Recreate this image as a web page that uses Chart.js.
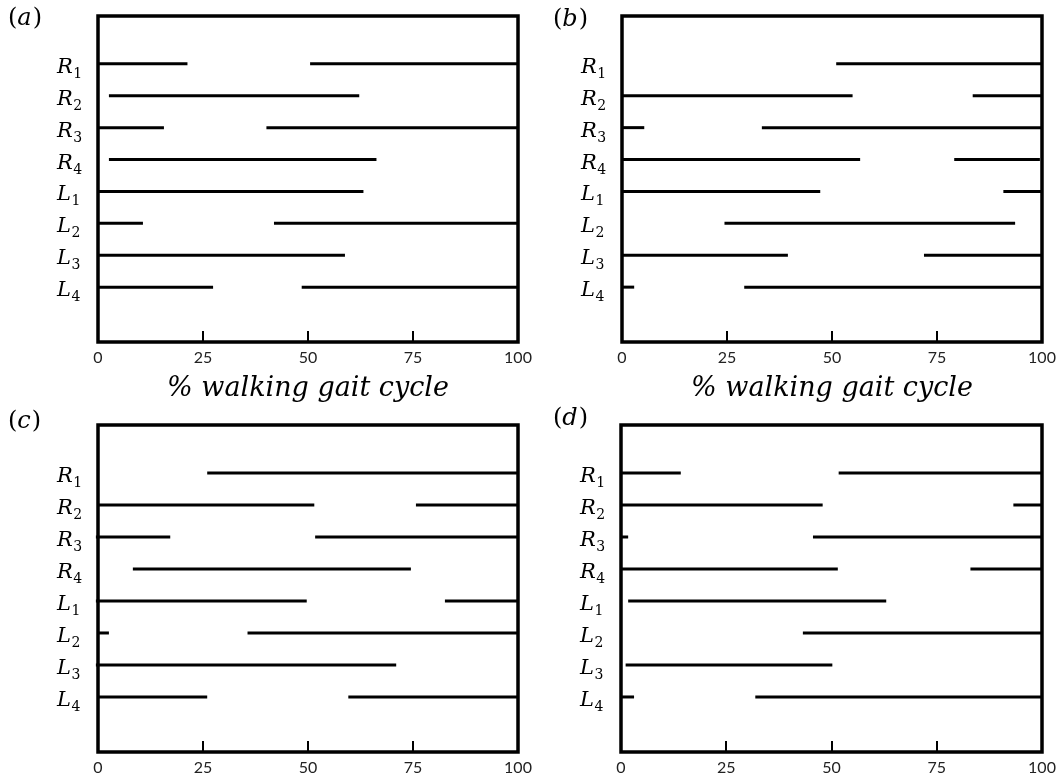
<!DOCTYPE html>
<html>
<head>
<meta charset="utf-8">
<title>Muscle activation over the walking gait cycle</title>
<script src="https://cdn.jsdelivr.net/npm/chart.js@4.4.1/dist/chart.umd.min.js"></script>
<style>
html,body{margin:0;padding:0;background:#fff;}
body{width:1061px;height:784px;position:relative;overflow:hidden;}
.panel{position:absolute;}
.panel canvas{display:block;}
</style>
</head>
<body>
<div class="panel" id="pa" style="left:0;top:0;width:545px;height:410px"><canvas id="ca"></canvas></div>
<div class="panel" id="pb" style="left:530px;top:0;width:531px;height:410px"><canvas id="cb"></canvas></div>
<div class="panel" id="pc" style="left:0;top:404px;width:545px;height:380px"><canvas id="cc"></canvas></div>
<div class="panel" id="pd" style="left:530px;top:404px;width:531px;height:380px"><canvas id="cd"></canvas></div>
<script>
// ---------- data ----------
const rowLabels = ['R1', 'R2', 'R3', 'R4', 'L1', 'L2', 'L3', 'L4'];
const xTickValues = [0, 25, 50, 75, 100];
const axisTitle = '% walking gait cycle';

// panel (a): [start, end] of each active interval, per row
const aFirst  = [[0, 21.3], [2.6, 62.2], [0, 15.7], [2.6, 66.3], [0, 63.2], [0, 10.7], [0, 58.8], [0, 27.4]];
const aSecond = [[50.5, 100], null, [40.1, 100], null, null, [41.9, 100], null, [48.5, 100]];

// panel (b)
const bFirst  = [[51.0, 100], [0, 54.9], [0, 5.3], [0, 56.7], [0, 47.2], [24.4, 93.6], [0, 39.5], [0, 2.9]];
const bSecond = [null, [83.5, 100], [33.3, 100], [79.1, 99.5], [90.8, 100], null, [71.9, 100], [29.1, 100]];

// panel (c)
const cFirst  = [[26.0, 100], [0, 51.5], [-0.5, 17.2], [8.3, 74.5], [-0.5, 49.7], [0, 2.6], [-0.5, 71.0], [0, 26.0]];
const cSecond = [null, [75.7, 100], [51.7, 100], null, [82.6, 100], [35.6, 100], null, [59.6, 100]];

// panel (d)
const dFirst  = [[0, 14.2], [0, 47.9], [0, 1.7], [0, 51.5], [1.7, 63.0], [43.2, 100], [1.1, 50.2], [0, 3.1]];
const dSecond = [[51.7, 100], [93.2, 100], [45.6, 100], [83.0, 100], null, null, null, [31.9, 100]];

// ---------- layout (page pixels) ----------
const panels = [
  {canvas: 'ca', letter: 'a', first: aFirst, second: aSecond, title: true,
   box: {ox: 0, oy: 0, w: 545, h: 410}, frame: {l: 98, r: 518, t: 16, b: 342}, letterPos: {x: 8, y: 18.5}},
  {canvas: 'cb', letter: 'b', first: bFirst, second: bSecond, title: true,
   box: {ox: 530, oy: 0, w: 531, h: 410}, frame: {l: 622, r: 1042, t: 16, b: 342}, letterPos: {x: 23, y: 19.5}},
  {canvas: 'cc', letter: 'c', first: cFirst, second: cSecond, title: false,
   box: {ox: 0, oy: 404, w: 545, h: 380}, frame: {l: 98, r: 518, t: 425, b: 752}, letterPos: {x: 8, y: 17.5}},
  {canvas: 'cd', letter: 'd', first: dFirst, second: dSecond, title: false,
   box: {ox: 530, oy: 404, w: 531, h: 380}, frame: {l: 621, r: 1042, t: 425, b: 752}, letterPos: {x: 23, y: 14.5}}
];

function toBars(segs) {
  const out = [];
  segs.forEach((s, i) => { if (s) out.push({x: s, y: i + 1}); });
  return out;
}

const decorPlugin = {
  id: 'panelDecor',
  afterDatasetsDraw(chart, args, opts) {
    const {ctx, chartArea: ca} = chart;
    const x = chart.scales.x, y = chart.scales.y;
    ctx.save();
    // inner tick marks on the bottom edge
    ctx.strokeStyle = '#000';
    ctx.lineWidth = 2;
    xTickValues.forEach(v => {
      if (v > x.min && v < x.max) {
        const px = Math.round(x.getPixelForValue(v));
        ctx.beginPath();
        ctx.moveTo(px, ca.bottom);
        ctx.lineTo(px, ca.bottom - 11);
        ctx.stroke();
      }
    });
    // frame
    ctx.lineWidth = 3.5;
    ctx.strokeRect(ca.left, ca.top, ca.right - ca.left, ca.bottom - ca.top);
    // row labels (letter + subscript)
    ctx.fillStyle = '#000';
    ctx.textAlign = 'left';
    ctx.textBaseline = 'alphabetic';
    rowLabels.forEach((lab, i) => {
      const py = y.getPixelForValue(i + 1);
      const base = lab.charAt(0), sub = lab.slice(1);
      const lx = ca.left - 41;
      ctx.font = 'italic 21px "DejaVu Serif"';
      ctx.fillText(base, lx, py + 9);
      const w = ctx.measureText(base).width;
      ctx.font = '14px "DejaVu Serif"';
      ctx.fillText(sub, lx + w + 0.5, py + 14);
    });
    // panel letter "(a)"
    ctx.textBaseline = 'middle';
    let lx = opts.x;
    const ly = opts.y;
    ctx.font = '24px "DejaVu Serif"';
    ctx.fillText('(', lx, ly);
    lx += ctx.measureText('(').width;
    ctx.font = 'italic 24px "DejaVu Serif"';
    ctx.fillText(opts.letter, lx, ly);
    lx += ctx.measureText(opts.letter).width + 1;
    ctx.font = '24px "DejaVu Serif"';
    ctx.fillText(')', lx, ly);
    ctx.restore();
  }
};

panels.forEach(p => {
  const H = p.box.h - (p.frame.b - p.box.oy); // height of x-axis band
  const dsBase = {
    backgroundColor: '#000',
    borderWidth: 0,
    grouped: false,
    maxBarThickness: 3,
    clip: 5
  };
  new Chart(document.getElementById(p.canvas), {
    type: 'bar',
    data: {
      datasets: [
        Object.assign({label: 'first', data: toBars(p.first)}, dsBase),
        Object.assign({label: 'second', data: toBars(p.second)}, dsBase)
      ]
    },
    options: {
      indexAxis: 'y',
      responsive: true,
      maintainAspectRatio: false,
      devicePixelRatio: 1,
      animation: false,
      events: [],
      layout: {
        padding: {
          left: p.frame.l - p.box.ox,
          right: p.box.w - (p.frame.r - p.box.ox),
          top: p.frame.t - p.box.oy,
          bottom: 0
        }
      },
      scales: {
        x: {
          type: 'linear',
          position: 'bottom',
          min: 0,
          max: 100,
          grid: {display: false, drawTicks: false},
          border: {display: false},
          afterBuildTicks: s => { s.ticks = xTickValues.map(v => ({value: v})); },
          afterFit: s => { s.height = H; s.paddingLeft = 0; s.paddingRight = 0; },
          ticks: {
            font: {family: 'Lato', size: 16},
            color: '#222',
            padding: 6,
            maxRotation: 0,
            autoSkip: false
          },
          title: {
            display: p.title,
            text: axisTitle,
            font: {family: 'DejaVu Serif', style: 'italic', size: 27, lineHeight: 1.2},
            color: '#000',
            padding: {top: 0, bottom: 5}
          }
        },
        y: {
          type: 'linear',
          reverse: true,
          min: -0.5,
          max: 9.72,
          offset: false,
          display: false
        }
      },
      plugins: {
        legend: {display: false},
        tooltip: {enabled: false},
        panelDecor: {letter: p.letter, x: p.letterPos.x, y: p.letterPos.y}
      }
    },
    plugins: [decorPlugin]
  });
});
</script>
</body>
</html>
